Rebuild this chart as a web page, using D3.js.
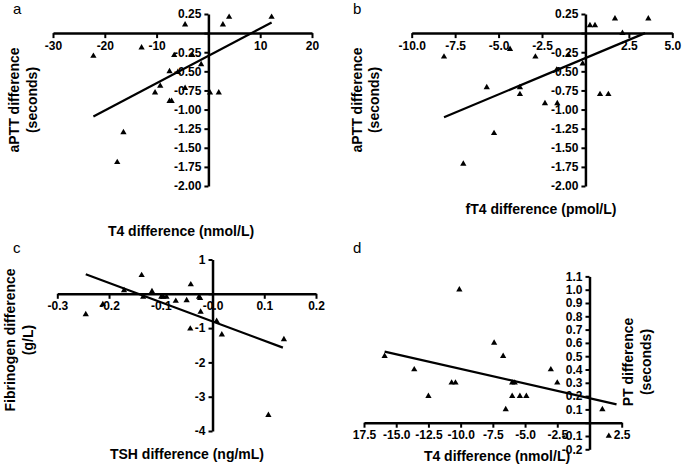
<!DOCTYPE html>
<html>
<head>
<meta charset="utf-8">
<script src="https://cdn.jsdelivr.net/npm/d3@7"></script>
<style>
  body { margin: 0; background: #fff; }
  svg { display: block; font-family: "Liberation Sans", Arial, sans-serif; }
  .tick text { font-size: 12px; font-weight: bold; fill: #000; }
  .tick line { stroke: #000; stroke-width: 2; }
  .domain { stroke: #000; stroke-width: 2.5; }
  .ttl { font-size: 14px; font-weight: bold; fill: #000; }
  .letter { font-size: 15px; fill: #000; }
</style>
</head>
<body>
<svg id="chart" width="685" height="465"></svg>
<script>
// panel a: T4 difference vs aPTT difference
const aT4Diff = [-22.2, -12.9, -4.5, -6.6, -3.1, -1.4, -7.5, -5.9, -9.3, -10.3, -4.5, -7.5, -7.1, 0.3, 2.0, 2.8, 4.0, 12.2, -16.4, -17.6];
const aAptt   = [-0.30, -0.19, 0.11, -0.29, -0.29, -0.41, -0.50, -0.51, -0.69, -0.78, -0.72, -0.89, -0.89, -0.78, -0.78, 0.11, 0.21, 0.21, -1.30, -1.69];
const aFitX = [-22.2, 12.2];
const aFitY = [-1.09, 0.14];

// panel b: fT4 difference vs aPTT difference
const bFt4Diff = [-8.14, -4.34, -2.88, -0.98, -0.16, -1.65, -5.68, -3.77, -3.77, -2.33, -1.62, 0.84, 1.32, 0.26, 0.55, 1.70, 3.62, 2.13, -5.26, -7.03];
const bAptt    = [-0.31, -0.21, -0.31, -0.29, -0.40, -0.48, -0.71, -0.71, -0.80, -0.92, -0.92, -0.80, -0.80, 0.10, 0.10, 0.19, 0.19, 0.0, -1.31, -1.71];
const bFitX = [-8.14, 3.43];
const bFitY = [-1.10, 0.0];

// panel c: TSH difference vs fibrinogen difference
const cTshDiff = [-0.245, -0.212, -0.137, -0.171, -0.134, -0.117, -0.099, -0.095, -0.089, -0.071, -0.050, -0.042, -0.026, -0.024, -0.023, 0.008, -0.043, 0.018, 0.138, 0.108];
const cFib     = [-0.60, -0.31, 0.54, 0.10, -0.09, 0.07, -0.09, -0.09, -0.09, -0.21, -0.19, 0.27, -0.09, -0.13, -0.53, -0.80, -1.02, -1.19, -1.33, -3.54];
const cFitX = [-0.245, 0.136];
const cFitY = [0.57, -1.57];

// panel d: T4 difference vs PT difference
const dT4Diff = [-10.1, -7.4, -6.7, -15.9, -13.6, -3.0, -10.7, -10.4, -6.0, -5.8, -2.5, -12.5, -6.0, -5.4, -4.9, -6.5, 1.0, 1.5];
const dPt     = [1.0, 0.6, 0.5, 0.5, 0.4, 0.4, 0.3, 0.3, 0.3, 0.3, 0.3, 0.2, 0.2, 0.2, 0.2, 0.1, 0.1, -0.1];
const dFitX = [-15.9, 2.1];
const dFitY = [0.534, 0.138];

// tick values and labels
const aXTicks = [-30, -20, -10, 0, 10, 20];
const aXLabels = ['-30', '-20', '-10', '', '10', '20'];
const abYTicks = [0.25, 0, -0.25, -0.5, -0.75, -1, -1.25, -1.5, -1.75, -2];
const abYLabels = ['0.25', '', '-0.25', '-0.50', '-0.75', '-1.00', '-1.25', '-1.50', '-1.75', '-2.00'];
const bXTicks = [-10, -7.5, -5, -2.5, 0, 2.5, 5];
const bXLabels = ['-10.0', '-7.5', '-5.0', '-2.5', '', '2.5', '5.0'];
const cXTicks = [-0.3, -0.2, -0.1, 0, 0.1, 0.2];
const cXLabels = ['-0.3', '-0.2', '-0.1', '-0.0', '0.1', '0.2'];
const cYTicks = [1, 0, -1, -2, -3, -4];
const cYLabels = ['1', '', '-1', '-2', '-3', '-4'];
const dXTicks = [-17.5, -15, -12.5, -10, -7.5, -5, -2.5, 0, 2.5];
const dXLabels = ['17.5', '-15.0', '-12.5', '-10.0', '-7.5', '-5.0', '-2.5', '', '2.5'];
const dYTicks = [1.1, 1.0, 0.9, 0.8, 0.7, 0.6, 0.5, 0.4, 0.3, 0.2, 0.1, 0, -0.1, -0.2];
const dYLabels = ['1.1', '1.0', '0.9', '0.8', '0.7', '0.6', '0.5', '0.4', '0.3', '0.2', '0.1', '', '-0.1', '-0.2'];

const svg = d3.select('#chart');

function drawPanel (p) {
  const x = d3.scaleLinear().domain(p.xDomain).range(p.xRange);
  const y = d3.scaleLinear().domain(p.yDomain).range(p.yRange);
  const g = svg.append('g');

  g.append('g')
    .attr('transform', `translate(0,${y(0)})`)
    .call(d3.axisBottom(x)
      .tickValues(p.xTicks)
      .tickFormat((d, i) => p.xLabels[i])
      .tickSize(5)
      .tickSizeOuter(0)
      .tickPadding(3));

  g.append('g')
    .attr('transform', `translate(${x(0)},0)`)
    .call(d3.axisLeft(y)
      .tickValues(p.yTicks)
      .tickFormat((d, i) => p.yLabels[i])
      .tickSize(4)
      .tickSizeOuter(0)
      .tickPadding(3));

  g.selectAll('.tick text').style('font-family', null);

  // fit line
  g.append('line')
    .attr('x1', x(p.fitX[0]))
    .attr('y1', y(p.fitY[0]))
    .attr('x2', x(p.fitX[1]))
    .attr('y2', y(p.fitY[1]))
    .attr('stroke', '#000')
    .attr('stroke-width', 2.2);

  const tri = d3.symbol().type(d3.symbolTriangle).size(17);
  g.selectAll('path.pt')
    .data(p.xs.map((v, i) => [v, p.ys[i]]))
    .enter()
    .append('path')
    .attr('class', 'pt')
    .attr('d', tri)
    .attr('transform', d => `translate(${x(d[0])},${y(d[1])})`)
    .attr('fill', '#000');

  // y title, two lines
  p.yTitle.forEach((t, i) => {
    g.append('text')
      .attr('class', 'ttl')
      .attr('transform', `translate(${p.yTitleX[i]},${p.yTitleY}) rotate(-90)`)
      .attr('text-anchor', 'middle')
      .attr('dominant-baseline', 'central')
      .text(t);
  });

  g.append('text')
    .attr('class', 'ttl')
    .attr('x', p.xTitlePos[0])
    .attr('y', p.xTitlePos[1])
    .attr('text-anchor', 'middle')
    .text(p.xTitle);

  g.append('text')
    .attr('class', 'letter')
    .attr('x', p.letterPos[0])
    .attr('y', p.letterPos[1])
    .text(p.letter);
}

drawPanel({
  xs: aT4Diff, ys: aAptt, fitX: aFitX, fitY: aFitY,
  xDomain: [-30, 20], xRange: [53, 312],
  yDomain: [-2, 0.25], yRange: [186, 14],
  xTicks: aXTicks, xLabels: aXLabels, yTicks: abYTicks, yLabels: abYLabels,
  yTitle: ['aPTT difference', '(seconds)'], yTitleX: [14, 32], yTitleY: 100,
  xTitle: 'T4 difference (nmol/L)', xTitlePos: [181, 236],
  letter: 'a', letterPos: [13, 14]
});

drawPanel({
  xs: bFt4Diff, ys: bAptt, fitX: bFitX, fitY: bFitY,
  xDomain: [-10, 5], xRange: [411.7, 672.3],
  yDomain: [-2, 0.25], yRange: [186, 14],
  xTicks: bXTicks, xLabels: bXLabels, yTicks: abYTicks, yLabels: abYLabels,
  yTitle: ['aPTT difference', '(seconds)'], yTitleX: [357, 374], yTitleY: 100,
  xTitle: 'fT4 difference (pmol/L)', xTitlePos: [541, 214],
  letter: 'b', letterPos: [353, 14]
});

drawPanel({
  xs: cTshDiff, ys: cFib, fitX: cFitX, fitY: cFitY,
  xDomain: [-0.3, 0.2], xRange: [57.3, 316],
  yDomain: [-4, 1], yRange: [431, 259.5],
  xTicks: cXTicks, xLabels: cXLabels, yTicks: cYTicks, yLabels: cYLabels,
  yTitle: ['Fibrinogen difference', '(g/L)'], yTitleX: [10, 28], yTitleY: 340,
  xTitle: 'TSH difference (ng/mL)', xTitlePos: [187, 459],
  letter: 'c', letterPos: [13, 253]
});

drawPanel({
  xs: dT4Diff, ys: dPt, fitX: dFitX, fitY: dFitY,
  xDomain: [-17.5, 2.5], xRange: [364, 621.7],
  yDomain: [-0.2, 1.1], yRange: [449.3, 276.4],
  xTicks: dXTicks, xLabels: dXLabels, yTicks: dYTicks, yLabels: dYLabels,
  yTitle: ['PT difference', '(seconds)'], yTitleX: [628, 646], yTitleY: 362,
  xTitle: 'T4 difference (nmol/L)', xTitlePos: [497, 461],
  letter: 'd', letterPos: [353, 253]
});
</script>
</body>
</html>
